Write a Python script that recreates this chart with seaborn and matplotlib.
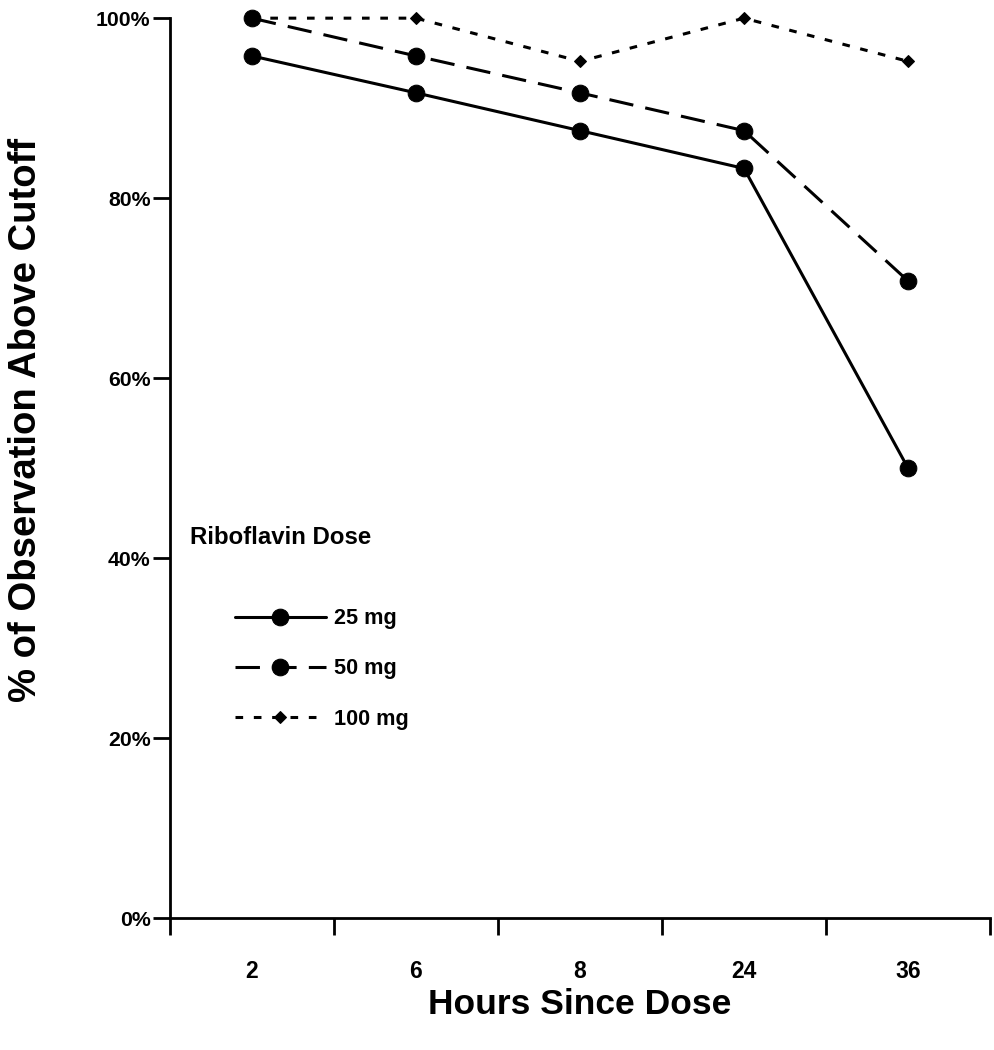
import numpy as np
import pandas as pd
import matplotlib
matplotlib.use("Agg")
import matplotlib.pyplot as plt
import seaborn as sns
from matplotlib.ticker import PercentFormatter, FixedLocator

# Data
hours = ["2", "6", "8", "24", "36"]
pct_25mg = [95.8, 91.7, 87.5, 83.3, 50.0]
pct_50mg = [100.0, 95.8, 91.7, 87.5, 70.8]
pct_100mg = [100.0, 100.0, 95.2, 100.0, 95.2]
doses = ["25 mg", "50 mg", "100 mg"]

df = pd.DataFrame({
    "hour": hours * 3,
    "pos": list(range(len(hours))) * 3,
    "pct": pct_25mg + pct_50mg + pct_100mg,
    "dose": [d for d in doses for _ in hours],
})

sns.set_theme(style="white")
plt.rcParams["font.family"] = ["Liberation Sans", "DejaVu Sans"]
plt.rcParams["font.weight"] = "bold"
plt.rcParams["text.color"] = "black"
plt.rcParams["axes.labelcolor"] = "black"
plt.rcParams["xtick.color"] = "black"
plt.rcParams["ytick.color"] = "black"

fig = plt.figure(figsize=(9.94, 10.5), dpi=100)
ax = fig.add_axes([0.171, 0.1257, 0.825, 0.857])

styles = {
    "25 mg": dict(linestyle="-", marker="o", markersize=12),
    "50 mg": dict(linestyle=(0, (8, 4)), marker="o", markersize=12),
    "100 mg": dict(linestyle=(0, (2.5, 3.5)), marker="D", markersize=6),
}
for d in doses:
    sub = df[df["dose"] == d]
    sns.lineplot(data=sub, x="pos", y="pct", ax=ax, color="black", linewidth=2.2,
                 markeredgecolor="black", label=d, sort=False, clip_on=False, **styles[d])

ax.set_xlim(-0.5, len(hours) - 0.5)
ax.set_ylim(0, 100)
ax.yaxis.set_major_locator(FixedLocator([0, 20, 40, 60, 80, 100]))
ax.yaxis.set_major_formatter(PercentFormatter(decimals=0))

ax.set_xticks(range(len(hours)))
ax.set_xticklabels(hours)
ax.set_xticks(np.arange(-0.5, len(hours)), minor=True)
ax.tick_params(axis="x", which="major", length=0, pad=30, labelsize=16.5)
ax.tick_params(axis="x", which="minor", length=12, width=2, direction="out")
ax.tick_params(axis="y", which="major", length=12, width=2, direction="out", labelsize=15.3, pad=2)
ax.tick_params(axis="both", bottom=True, left=True, which="both")

for lab in ax.get_xticklabels() + ax.get_yticklabels():
    lab.set_fontweight("bold")

for s in ["top", "right"]:
    ax.spines[s].set_visible(False)
for s in ["left", "bottom"]:
    ax.spines[s].set_color("black")
    ax.spines[s].set_linewidth(2)

ax.set_xlabel("Hours Since Dose", fontsize=25.5, fontweight="bold")
ax.set_ylabel("% of Observation Above Cutoff", fontsize=27.5, fontweight="bold")
ax.xaxis.set_label_coords(0.5, -0.078)
ax.yaxis.set_label_coords(-0.154, 0.554)

ax.text(0.025, 0.423, "Riboflavin Dose", transform=ax.transAxes, fontsize=17.3,
        fontweight="bold", ha="left", va="center")
leg = ax.legend(loc="upper left", bbox_to_anchor=(0.055, 0.366), frameon=False,
                handlelength=4.2, handletextpad=0.4, labelspacing=1.35, fontsize=15.6)
for t in leg.get_texts():
    t.set_fontweight("bold")

fig.savefig("out.png", dpi=100)
